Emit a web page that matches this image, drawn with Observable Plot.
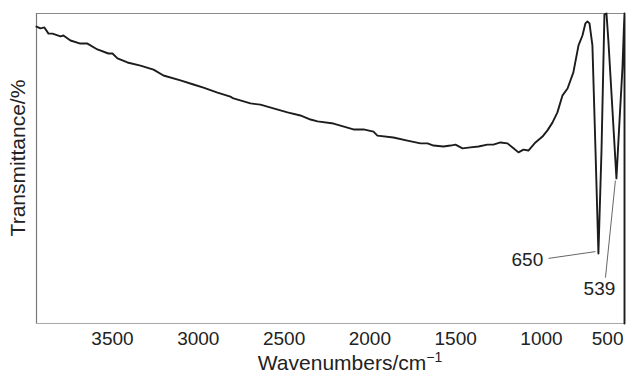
<!DOCTYPE html>
<html>
<head>
<meta charset="utf-8">
<script src="https://cdn.jsdelivr.net/npm/d3@7"></script>
<script src="https://cdn.jsdelivr.net/npm/@observablehq/plot@0.6"></script>
<style>
  html, body { margin: 0; padding: 0; background: #fff; }
  #chart { width: 628px; height: 379px; }
</style>
</head>
<body>
<div id="chart"></div>
<script>
// Wavenumber (cm^-1) and transmittance (% of frame height)
const wavenumber = [3943,3920,3897,3873,3850,3803,3786,3745,3687,3646,3588,3524,3500,3471,3413,3337,3261,3203,3104,3028,2970,2888,2813,2795,2696,2638,2562,2480,2405,2346,2305,2212,2131,2096,2037,1979,1956,1863,1781,1705,1664,1629,1571,1530,1501,1460,1414,1367,1315,1280,1239,1198,1163,1134,1105,1076,1035,994,965,936,907,878,848,814,784,761,744,732,720,703,685,668,650,633,621,610,586,563,545,528,519,516,516];
const transmittance = [95.8,95.2,95.5,93.5,93.5,92.6,92.9,91.3,90.3,90.3,88.4,87.1,87.1,85.5,84.2,83.2,81.9,80.0,78.4,77.1,76.1,74.5,73.2,72.6,71.0,70.6,69.4,68.1,67.1,65.8,65.2,64.5,63.2,62.6,62.6,61.9,60.6,60.0,59.0,58.1,58.1,57.4,57.1,57.4,57.7,56.5,56.8,57.1,57.7,57.7,58.4,58.1,56.5,55.2,56.1,55.8,58.4,60.3,62.3,64.8,68.1,73.5,75.8,81.0,89.7,92.9,96.8,97.4,96.8,89.7,55.8,22.6,55.8,99.7,100,91.3,68.7,46.8,65.5,82.3,96.1,100,0];

// Tick labels
const tickValues = [3500, 3000, 2500, 2000, 1500, 1000];
const tickLabels = ["3500", "3000", "2500", "2000", "1500", "1000"];
const edgeTickLabel = "500";

// Peak annotations: label, label position, leader start, leader end
const peakLabels = ["650", "539"];
const peakLabelX = [1082, 662];
const peakLabelY = [20.6, 11.3];
const leaderX1 = [959, 627];
const leaderY1 = [21.0, 14.8];
const leaderX2 = [685, 569];
const leaderY2 = [23.2, 46.1];

const xTitle = "Wavenumbers/cm";
const xTitleSup = "\u22121";
const yTitle = "Transmittance/%";

const spectrum = wavenumber.map((x, i) => ({x, y: transmittance[i]}));
const ticks = tickValues.map((x, i) => ({x, label: tickLabels[i]}));
const peaks = peakLabels.map((label, i) => ({
  label, lx: peakLabelX[i], ly: peakLabelY[i],
  x1: leaderX1[i], y1: leaderY1[i], x2: leaderX2[i], y2: leaderY2[i]
}));

const xDomain = [wavenumber[0], wavenumber[wavenumber.length - 1]];
const font = "'Liberation Sans', Arial, Helvetica, sans-serif";

const chart = Plot.plot({
  width: 628,
  height: 379,
  marginLeft: 36,
  marginRight: 4,
  marginTop: 13,
  marginBottom: 56,
  style: {fontFamily: font, fontSize: "19px", background: "#fff", color: "#222"},
  x: {domain: xDomain, axis: null},
  y: {domain: [0, 100], axis: null},
  marks: [
    Plot.ruleY([100], {stroke: "#8a8a8a", strokeWidth: 1.2}),
    Plot.ruleY([0], {stroke: "#a8a8a8", strokeWidth: 1.2}),
    Plot.ruleX([xDomain[0]], {stroke: "#7a7a7a", strokeWidth: 1.2}),
    Plot.line(spectrum, {x: "x", y: "y", stroke: "#1c1c1c", strokeWidth: 1.9, strokeLinejoin: "round", curve: "linear"}),
    Plot.link(peaks, {x1: "x1", y1: "y1", x2: "x2", y2: "y2", stroke: "#666", strokeWidth: 1}),
    Plot.text(peaks, {x: "lx", y: "ly", text: "label", fontSize: 19, fill: "#222"}),
    Plot.text(ticks, {x: "x", y: 0, text: "label", lineAnchor: "top", dy: 8, fontSize: 19, fill: "#222"}),
    Plot.text([{x: xDomain[1], label: edgeTickLabel}], {x: "x", y: 0, text: "label", lineAnchor: "top", textAnchor: "end", dx: -1, dy: 8, fontSize: 19, fill: "#222"})
  ]
});

const svg = d3.select(chart);
const xt = svg.append("text")
  .attr("x", 350).attr("y", 370)
  .attr("text-anchor", "middle")
  .attr("font-family", font).attr("font-size", 21).attr("fill", "#222")
  .text(xTitle);
xt.append("tspan").attr("font-size", 14).attr("dy", -8).text(xTitleSup);

svg.append("text")
  .attr("transform", "translate(25,158) rotate(-90)")
  .attr("text-anchor", "middle")
  .attr("font-family", font).attr("font-size", 21).attr("fill", "#222")
  .text(yTitle);

document.getElementById("chart").appendChild(chart);
</script>
</body>
</html>
